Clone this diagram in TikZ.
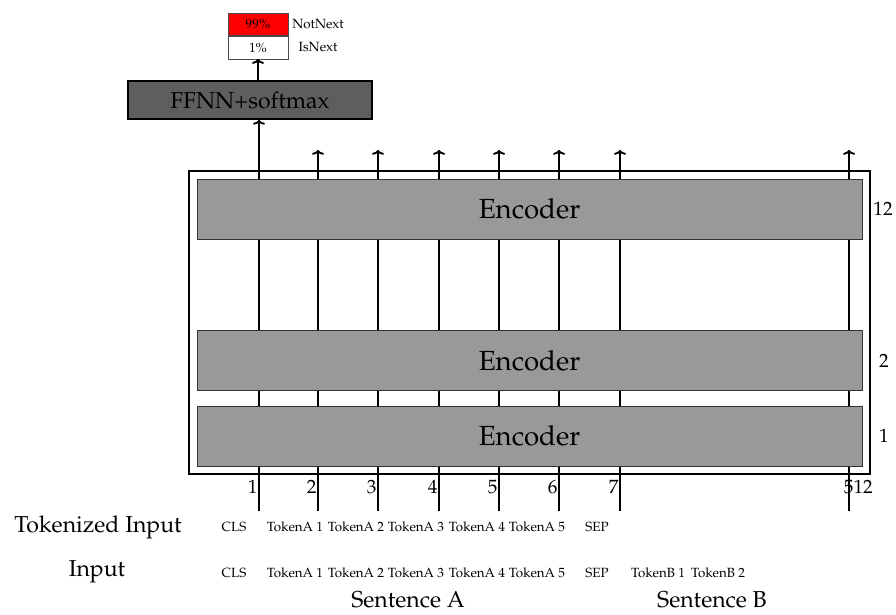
\documentclass[tikz,border=0pt]{standalone}
\usepackage[T1]{fontenc}
\usepackage{mathpazo}
\usetikzlibrary{fit,arrows.meta}
\tikzset{
  encbox/.style={draw=black!80, fill=black!40, minimum width=498.75pt, minimum height=45pt, inner sep=0pt, font=\huge},
  ffnnbox/.style={draw, line width=1.4pt, fill=black!63, minimum width=183pt, minimum height=28.5pt, inner sep=0pt, font=\LARGE},
  probbox/.style={draw=black!70, minimum width=45pt, minimum height=16.9pt, inner sep=0pt},
  tokline/.style={line width=1.4pt, ->}
}
\begin{document}
\begin{tikzpicture}[x=0.75pt, y=0.75pt, >={To[width=9pt,length=3.6pt]}]
\useasboundingbox (0,0) rectangle (896,614);
% output head
\node[ffnnbox] (ffnn) at (250,514) {FFNN+softmax};
\node[probbox, fill=red, anchor=south] (pnot) at (258,578) {99\%};
\node[probbox, fill=white, anchor=north] (pis) at (258,578) {1\%};
\node (lnot) at (318,590) {NotNext};
\node (lis) at (318,567) {IsNext};
\draw[tokline] (ffnn.north -| pis) -- (pis.south);
% token lines
\foreach \i/\x in {1/259,2/318,3/378,4/439,5/499,6/559,7/620,512/849}{
  \coordinate (b\i) at (\x,103);
  \coordinate (t\i) at (\x,464);
}
\draw[tokline] (b1) -- (b1 |- ffnn.south);
\foreach \i in {2,...,7,512}
  \draw[tokline] (b\i) -- (t\i);
% encoder stack
\node[encbox] (enc12) at (529.5,405) {Encoder};
\node[encbox] (enc2) at (529.5,253.5) {Encoder};
\node[encbox] (enc1) at (529.5,178) {Encoder};
\node[fit=(enc12)(enc1), draw, line width=1.4pt, inner sep=5.5pt] (stack) {};
\node[font=\Large] (n12) at (883,405) {12};
\node[font=\Large] (n2) at (884,253.5) {2};
\node[font=\Large] (n1) at (884,178) {1};
% positions
\foreach \i in {1,...,7}
  \node[font=\Large, anchor=east, inner sep=1pt] (p\i) at ([yshift=18]b\i) {\i};
\node[font=\Large, anchor=west, inner sep=1pt] (p512) at ([xshift=-5,yshift=18]b512) {512};
% inputs
\node[font=\LARGE] (tokin) at (98,87) {Tokenized Input};
\node[font=\LARGE] (inp) at (97,42) {Input};
\foreach \t/\x in {CLS/234,TokenA 1/295,TokenA 2/356,TokenA 3/416,TokenA 4/477,TokenA 5/537,SEP/597}
  \node at (\x,87) {\t};
\foreach \t/\x in {CLS/234,TokenA 1/295,TokenA 2/356,TokenA 3/416,TokenA 4/477,TokenA 5/537,SEP/597,TokenB 1/658,TokenB 2/718}
  \node at (\x,41) {\t};
\node[font=\LARGE] (senta) at (408,14) {Sentence A};
\node[font=\LARGE] (sentb) at (712,14) {Sentence B};
\end{tikzpicture}
\end{document}
